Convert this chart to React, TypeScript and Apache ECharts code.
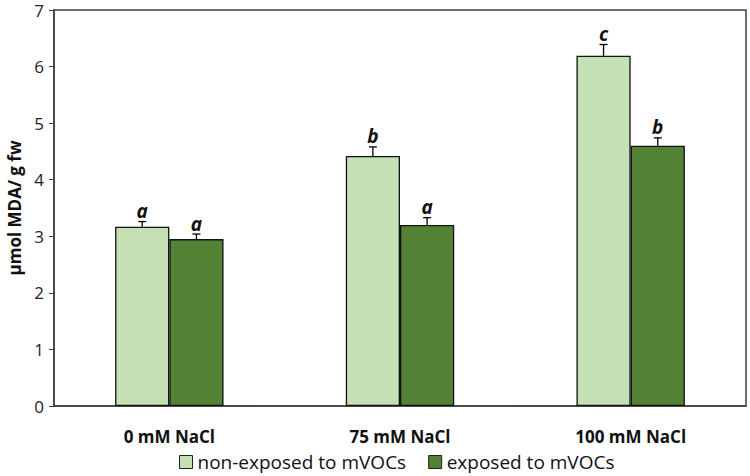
import React, { useEffect, useRef } from "react";
import * as echarts from "echarts";

const categories = ["0 mM NaCl", "75 mM NaCl", "100 mM NaCl"];
const seriesNames = ["non-exposed to mVOCs", "exposed to mVOCs"];
const nonExposed = [3.17, 4.42, 6.19];
const nonExposedErr = [0.09, 0.16, 0.2];
const nonExposedLetters = ["a", "b", "c"];
const exposed = [2.95, 3.2, 4.6];
const exposedErr = [0.09, 0.13, 0.14];
const exposedLetters = ["a", "a", "b"];
const yTicks = { min: 0, max: 7, interval: 1 };

const FONT = "'Open Sans', sans-serif";
const BAR_FRAC = 0.235;

function errSeries(values: number[], errs: number[], letters: string[], sign: number) {
  return {
    type: "custom",
    silent: true,
    z: 10,
    data: values.map((v, i) => [i, v, errs[i]]),
    renderItem: (params: any, api: any) => {
      const ci = api.value(0);
      const v = api.value(1);
      const e = api.value(2);
      const base = api.coord([ci, v]);
      const top = api.coord([ci, v + e]);
      const band = api.size([1, 0])[0];
      const x = base[0] + sign * (BAR_FRAC / 2) * band;
      const st = { stroke: "#000", lineWidth: 1.3 };
      return {
        type: "group",
        children: [
          { type: "line", shape: { x1: x, y1: base[1], x2: x, y2: top[1] }, style: st },
          { type: "line", shape: { x1: x - 4, y1: top[1], x2: x + 4, y2: top[1] }, style: st },
          {
            type: "text",
            x: x,
            y: top[1] - 1,
            style: {
              text: letters[params.dataIndex],
              textAlign: "center",
              textVerticalAlign: "bottom",
              font: "italic bold 19px " + FONT,
              fill: "#111",
            },
          },
        ],
      };
    },
  };
}

export default function App() {
  const ref = useRef<HTMLDivElement>(null);
  useEffect(() => {
    const chart = echarts.init(ref.current!, null, { renderer: "svg" });
    chart.setOption({
      animation: false,
      backgroundColor: "#fff",
      grid: {
        left: 54,
        right: 4,
        top: 10,
        bottom: 70,
        show: true,
        borderColor: "#404040",
        borderWidth: 1.5,
        outerBoundsMode: "none",
      },
      legend: {
        top: 452,
        left: 179,
        padding: 0,
        itemWidth: 13,
        itemHeight: 13,
        itemGap: 22,
        itemStyle: { borderColor: "#222", borderWidth: 1 },
        icon: "rect",
        textStyle: { fontSize: 19, lineHeight: 20, fontFamily: FONT, color: "#111" },
        data: seriesNames,
      },
      xAxis: {
        type: "category",
        data: categories,
        axisLine: { lineStyle: { color: "#404040", width: 1.5 } },
        axisTick: { show: false },
        axisLabel: {
          fontSize: 17,
          fontWeight: "bold",
          fontFamily: FONT,
          color: "#111",
          margin: 22,
        },
      },
      yAxis: {
        type: "value",
        min: yTicks.min,
        max: yTicks.max,
        interval: yTicks.interval,
        name: "µmol MDA/ g fw",
        nameLocation: "middle",
        nameGap: 29,
        nameTextStyle: { fontSize: 17, fontWeight: "bold", fontFamily: FONT, color: "#111" },
        axisLine: { show: true, lineStyle: { color: "#404040", width: 1.5 } },
        axisTick: { show: true, length: 5, lineStyle: { color: "#404040" } },
        splitLine: { show: false },
        axisLabel: { fontSize: 17, fontFamily: FONT, color: "#222", margin: 10 },
      },
      series: [
        {
          name: seriesNames[0],
          type: "bar",
          data: nonExposed,
          barWidth: BAR_FRAC * 100 + "%",
          barGap: "0%",
          itemStyle: { color: "#c5e0b4", borderColor: "#111", borderWidth: 1.3 },
        },
        {
          name: seriesNames[1],
          type: "bar",
          data: exposed,
          barWidth: BAR_FRAC * 100 + "%",
          barGap: "0%",
          itemStyle: { color: "#548235", borderColor: "#111", borderWidth: 1.3 },
        },
        errSeries(nonExposed, nonExposedErr, nonExposedLetters, -1),
        errSeries(exposed, exposedErr, exposedLetters, 1),
      ],
    });
    return () => chart.dispose();
  }, []);
  return <div ref={ref} style={{ width: 750, height: 476, position: "absolute", left: 0, top: 0 }} />;
}
